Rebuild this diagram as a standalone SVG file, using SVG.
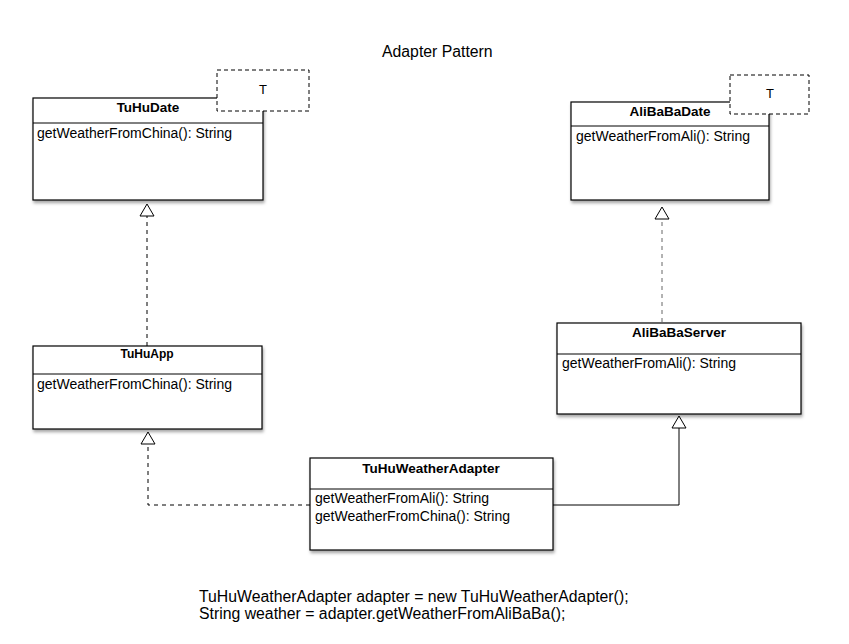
<svg xmlns="http://www.w3.org/2000/svg" width="849" height="644" viewBox="0 0 849 644">
<style>
.box{fill:#fff;stroke:#000;stroke-width:1.2}
.sep{stroke:#000;stroke-width:1}
.tbox{fill:#fff;stroke:#000;stroke-width:1;stroke-dasharray:4,3}
.ttl{font-family:"Liberation Sans",Arial,sans-serif;font-weight:bold;font-size:13.5px;text-anchor:middle;fill:#000}
.mth{font-family:"Liberation Sans",Arial,sans-serif;font-size:14px;fill:#000}
.txt{font-family:"Liberation Sans",Arial,sans-serif;font-size:15.8px;fill:#000}
.dash{fill:none;stroke:#000;stroke-width:1;stroke-dasharray:4,4}
.solid{fill:none;stroke:#000;stroke-width:1}
.tri{fill:#fff;stroke:#000;stroke-width:1}
</style>
<defs>
<filter id="sh" x="-10%" y="-10%" width="120%" height="130%">
<feDropShadow dx="1" dy="2.5" stdDeviation="1.5" flood-color="#000" flood-opacity="0.35"/>
</filter>
</defs>
<rect width="849" height="644" fill="#fff"/>
<text class="txt" x="382" y="57">Adapter Pattern</text>

<g id="connectors">
<path class="dash" d="M147,346 V216"/>
<polygon class="tri" points="147,204 140,216 154,216"/>
<path class="dash" d="M662,322 V219" style="stroke:#666"/>
<polygon class="tri" points="662,207 655,219 669,219"/>
<path class="dash" d="M310,505 H148 V443"/>
<polygon class="tri" points="148,432 141,444 155,444"/>
<path class="solid" d="M552,505 H679 V428"/>
<polygon class="tri" points="679,416 672,428 686,428"/>
</g>

<g id="TuHuDate">
<rect class="box" x="33" y="98" width="230" height="102" filter="url(#sh)"/>
<line class="sep" x1="33" y1="123" x2="263" y2="123"/>
<text class="ttl" x="148" y="112">TuHuDate</text>
<text class="mth" x="37" y="138">getWeatherFromChina(): String</text>
<rect class="tbox" x="217" y="70" width="92" height="41"/>
<text class="mth" x="263" y="94" text-anchor="middle" style="font-size:13px">T</text>
</g>

<g id="AliBaBaDate">
<rect class="box" x="571" y="102" width="198" height="98" filter="url(#sh)"/>
<line class="sep" x1="571" y1="126" x2="769" y2="126"/>
<text class="ttl" x="670" y="116">AliBaBaDate</text>
<text class="mth" x="576" y="141">getWeatherFromAli(): String</text>
<rect class="tbox" x="730" y="75" width="79" height="39"/>
<text class="mth" x="770" y="98" text-anchor="middle" style="font-size:13px">T</text>
</g>

<g id="TuHuApp">
<rect class="box" x="33" y="346" width="229" height="83" filter="url(#sh)"/>
<line class="sep" x1="33" y1="374" x2="262" y2="374"/>
<text class="ttl" x="147" y="358" style="font-size:12px">TuHuApp</text>
<text class="mth" x="37" y="389">getWeatherFromChina(): String</text>
</g>

<g id="AliBaBaServer">
<rect class="box" x="557" y="323" width="244" height="91" filter="url(#sh)"/>
<line class="sep" x1="557" y1="354" x2="801" y2="354"/>
<text class="ttl" x="679" y="337">AliBaBaServer</text>
<text class="mth" x="562" y="368">getWeatherFromAli(): String</text>
</g>

<g id="TuHuWeatherAdapter">
<rect class="box" x="310" y="458" width="243" height="92" filter="url(#sh)"/>
<line class="sep" x1="310" y1="489" x2="553" y2="489"/>
<text class="ttl" x="431" y="473">TuHuWeatherAdapter</text>
<text class="mth" x="315" y="503">getWeatherFromAli(): String</text>
<text class="mth" x="315" y="521">getWeatherFromChina(): String</text>
</g>

<text class="txt" x="199" y="602">TuHuWeatherAdapter adapter = new TuHuWeatherAdapter();</text>
<text class="txt" x="199" y="619">String weather = adapter.getWeatherFromAliBaBa();</text>
</svg>
